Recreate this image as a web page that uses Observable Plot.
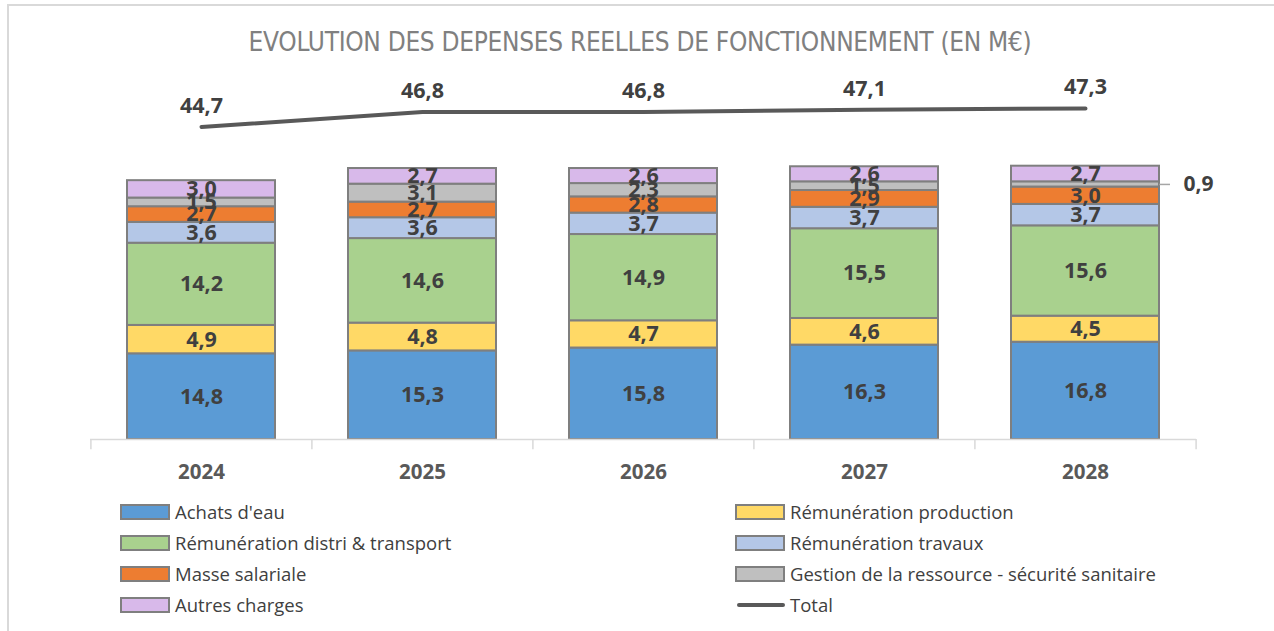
<!DOCTYPE html>
<html>
<head>
<meta charset="utf-8">
<script src="https://cdn.jsdelivr.net/npm/d3@7"></script>
<script src="https://cdn.jsdelivr.net/npm/@observablehq/plot@0.6"></script>
<style>
  html, body { margin: 0; padding: 0; background: #fff; }
  #wrap { position: relative; width: 1274px; height: 631px; overflow: hidden; background: #fff; }
  #frame { position: absolute; left: 7px; top: 4px; right: -10px; bottom: -10px; border-top: 2px solid #d9d9d9; border-left: 2px solid #d9d9d9; }
  #title { position: absolute; left: 0; top: 27px; width: 1280px; text-align: center;
    font-family: "Liberation Sans Narrow", "DejaVu Sans Condensed", "Liberation Sans", sans-serif;
    font-size: 26px; color: #808080; letter-spacing: -0.3px; white-space: nowrap; }
  #chart { position: absolute; left: 0; top: 60px; }
  #legend { position: absolute; left: 120px; top: 496px; display: grid; grid-template-columns: 615px 440px; row-gap: 0px;
    font-family: "Open Sans", "Liberation Sans", sans-serif; font-size: 18.5px; color: #404040; }
  .item { display: flex; align-items: center; height: 31px; white-space: nowrap; }
  .sw { width: 46px; height: 12px; border: 2px solid #7f7f7f; margin-right: 5px; box-sizing: content-box; }
  .ln { width: 48px; height: 4px; background: #595959; border-radius: 2px; margin-right: 5px; margin-left: 2px; }
</style>
</head>
<body>
<div id="wrap">
  <div id="frame"></div>
  <div id="title">EVOLUTION DES DEPENSES REELLES DE FONCTIONNEMENT (EN M€)</div>
  <div id="chart"></div>
  <div id="legend"></div>
</div>
<script>
// ---- data ----
const years = ["2024", "2025", "2026", "2027", "2028"];
const series = [
  "Achats d'eau",
  "Rémunération production",
  "Rémunération distri & transport",
  "Rémunération travaux",
  "Masse salariale",
  "Gestion de la ressource - sécurité sanitaire",
  "Autres charges"
];
const achatsEau        = [14.8, 15.3, 15.8, 16.3, 16.8];
const remProduction    = [4.9, 4.8, 4.7, 4.6, 4.5];
const remDistri        = [14.2, 14.6, 14.9, 15.5, 15.6];
const remTravaux       = [3.6, 3.6, 3.7, 3.7, 3.7];
const masseSalariale   = [2.7, 2.7, 2.8, 2.9, 3.0];
const gestionRessource = [1.5, 3.1, 2.3, 1.5, 0.9];
const autresCharges    = [3.0, 2.7, 2.6, 2.6, 2.7];
const totals           = [44.7, 46.8, 46.8, 47.1, 47.3];
const totalLabel = "Total";
const colors = ["#5B9BD5", "#FFD966", "#A9D18E", "#B4C7E7", "#ED7D31", "#BFBFBF", "#D8B9EA"];

// ---- table ----
const seriesValues = [achatsEau, remProduction, remDistri, remTravaux, masseSalariale, gestionRessource, autresCharges];
const rows = [];
years.forEach((year, i) => {
  let acc = 0;
  series.forEach((s, k) => {
    const v = seriesValues[k][i];
    rows.push({year, series: s, value: v, y1: acc, y2: acc + v, mid: acc + v / 2});
    acc += v;
  });
});
const totalRows = years.map((year, i) => ({year, total: totals[i]}));
const fmt = v => v.toFixed(1).replace(".", ",");

// secondary axis for the total line (mapped into the primary axis units)
const secondary = d3.scaleLinear().domain([40, 50]).range([48.2, 60.5]);

const W = 1274, ML = 90, MR = 78;
const step = (W - ML - MR) / years.length;
const bandwidth = step * 0.67;

const chart = Plot.plot({
  width: W, height: 430,
  marginLeft: ML, marginRight: MR, marginTop: 20, marginBottom: 51,
  style: {fontFamily: "'Open Sans', 'Liberation Sans', sans-serif", overflow: "visible"},
  x: {domain: years, paddingInner: 0.33, paddingOuter: 0.165, axis: null, label: null},
  y: {domain: [0, 62], axis: null},
  color: {domain: series, range: colors},
  marks: [
    Plot.barY(rows, {x: "year", y1: "y1", y2: "y2", fill: "series", stroke: "#7f7f7f", strokeWidth: 2}),
    Plot.ruleY([0], {stroke: "#d9d9d9", strokeWidth: 1.5}),
    Plot.ruleX(years, {x: d => d, y1: 0, y2: -1.75, dx: -step / 2, stroke: "#d9d9d9", strokeWidth: 1.5}),
    Plot.ruleX([years[years.length - 1]], {x: d => d, y1: 0, y2: -1.75, dx: step / 2, stroke: "#d9d9d9", strokeWidth: 1.5}),
    Plot.axisX({tickSize: 0, tickPadding: 25, fontSize: 20.5, fontWeight: "bold", fill: "#595959", label: null}),
    Plot.text(rows, {x: "year", y: "mid", text: d => d.value >= 1 ? fmt(d.value) : "",
      fill: "#404040", fontWeight: "bold", fontSize: 21.5}),
    Plot.tickY(rows.filter(d => d.value < 1), {x: "year", y: "mid", stroke: "#a6a6a6", strokeWidth: 1.5,
      insetLeft: bandwidth, insetRight: -11}),
    Plot.text(rows.filter(d => d.value < 1), {x: "year", y: "mid", text: d => fmt(d.value),
      textAnchor: "start", dx: bandwidth / 2 + 24, fill: "#404040", fontWeight: "bold", fontSize: 21}),
    Plot.line(totalRows, {x: "year", y: d => secondary(d.total), stroke: "#595959", strokeWidth: 4, strokeLinecap: "round"}),
    Plot.text(totalRows, {x: "year", y: d => secondary(d.total), text: d => fmt(d.total), dy: -21,
      fill: "#404040", fontWeight: "bold", fontSize: 21.5})
  ]
});
document.getElementById("chart").appendChild(chart);

// ---- legend ----
const legend = document.getElementById("legend");
const items = series.map((s, k) => ({label: s, color: colors[k]})).concat([{label: totalLabel, line: true}]);
items.forEach(it => {
  const div = document.createElement("div");
  div.className = "item";
  const sw = document.createElement("span");
  if (it.line) { sw.className = "ln"; } else { sw.className = "sw"; sw.style.background = it.color; }
  const lab = document.createElement("span");
  lab.textContent = it.label;
  div.appendChild(sw); div.appendChild(lab);
  legend.appendChild(div);
});
</script>
</body>
</html>
